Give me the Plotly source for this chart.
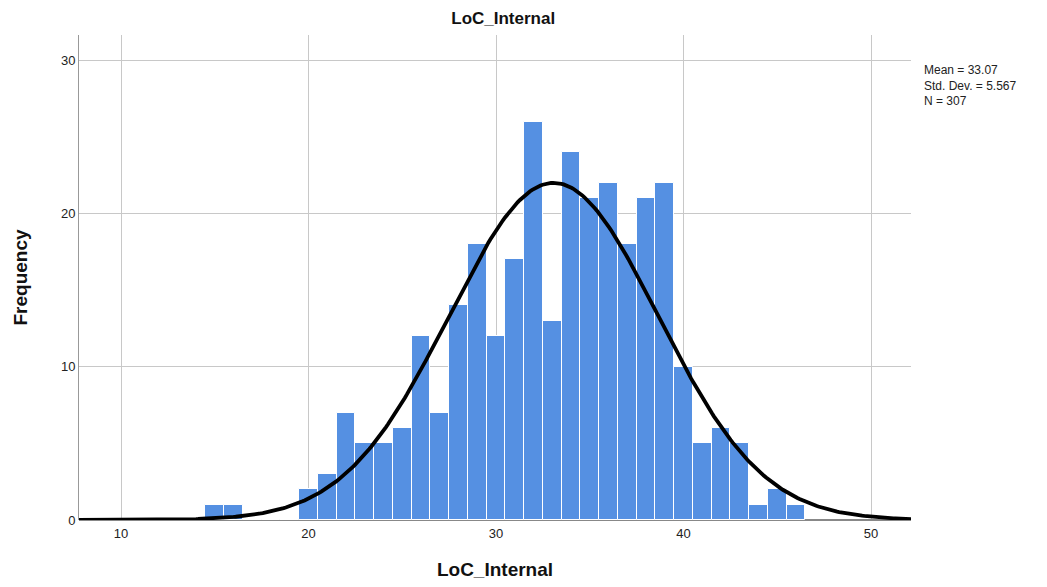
import numpy as np
import plotly.graph_objects as go

# Histogram bin centers (bin width 1) and frequencies
bin_centers = [15, 16, 17, 18, 19, 20, 21, 22, 23, 24, 25, 26, 27, 28, 29, 30,
               31, 32, 33, 34, 35, 36, 37, 38, 39, 40, 41, 42, 43, 44, 45, 46]
frequencies = [1, 1, 0, 0, 0, 2, 3, 7, 5, 5, 6, 12, 7, 14, 18, 12,
               17, 26, 13, 24, 21, 22, 18, 21, 22, 10, 5, 6, 5, 1, 2, 1]

mean_val = 33.07
sd_val = 5.567
n_val = 307
bin_width = 1.0

x_ticks = [10, 20, 30, 40, 50]
y_ticks = [0, 10, 20, 30]

# Fitted normal curve from the reported statistics
xc = np.linspace(7.76, 52.2, 400)
yc = n_val * bin_width / (sd_val * np.sqrt(2 * np.pi)) * np.exp(-0.5 * ((xc - mean_val) / sd_val) ** 2)

fig = go.Figure()
fig.add_trace(go.Bar(
    x=bin_centers, y=frequencies, width=bin_width,
    marker=dict(color="#5590e2", line=dict(color="white", width=1)),
    showlegend=False, hoverinfo="x+y"
))
fig.add_trace(go.Scatter(
    x=xc, y=yc, mode="lines", line=dict(color="black", width=3.8),
    showlegend=False, hoverinfo="skip"
))

fig.update_layout(
    width=1047, height=587,
    margin=dict(l=71, r=144, t=27, b=75),
    paper_bgcolor="white", plot_bgcolor="white",
    font=dict(family="Liberation Sans, Arial, sans-serif", color="#222"),
    bargap=0,
    title=dict(text="<b>LoC_Internal</b>", x=0.473, xanchor="center", y=0.983, yanchor="middle",
               font=dict(size=17, color="#111")),
    xaxis=dict(
        range=[7.76, 52.13], tickvals=x_ticks, ticks="", showgrid=True,
        gridcolor="#c8c8c8", gridwidth=1, zeroline=False, showline=False,
        tickfont=dict(size=13, color="#222"), ticklabelstandoff=4,
        title=dict(text="<b>LoC_Internal</b>", font=dict(size=19, color="#111"), standoff=22),
    ),
    yaxis=dict(
        range=[0, 31.65], tickvals=y_ticks, ticks="", showgrid=True,
        gridcolor="#c8c8c8", gridwidth=1, zeroline=True, zerolinecolor="#888", zerolinewidth=1.5,
        showline=True, linecolor="#999", linewidth=1,
        tickfont=dict(size=13, color="#222"),
        title=dict(text="<b>Frequency</b>", font=dict(size=19, color="#111"), standoff=28),
    ),
    annotations=[dict(
        text="Mean = 33.07<br>Std. Dev. = 5.567<br>N = 307",
        xref="paper", yref="paper", x=1.013, y=0.947, xanchor="left", yanchor="top",
        align="left", showarrow=False, font=dict(size=12, color="#222")
    )],
)

fig.write_html("out.html")
